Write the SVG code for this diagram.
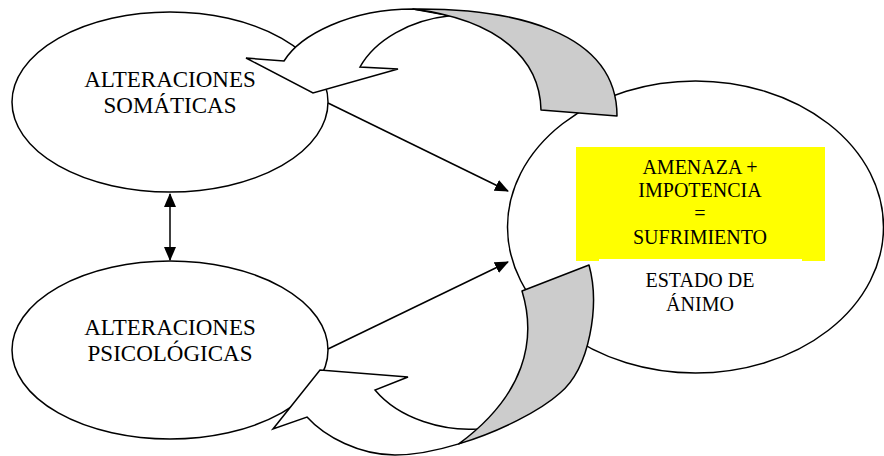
<svg xmlns="http://www.w3.org/2000/svg" width="884" height="456" viewBox="0 0 884 456">
<defs>
<style>
.node{fill:#fff;stroke:#000;stroke-width:1.5}
.back{fill:#ccc;stroke:#000;stroke-width:1.5;stroke-linejoin:round}
.band{fill:#fff;stroke:#000;stroke-width:1.5;stroke-linejoin:miter}
.lbl{font-family:"Liberation Serif","Times New Roman",serif;font-size:23px;text-anchor:middle;fill:#000}
.sm{font-size:20px}
.conn{stroke:#000;stroke-width:1.5;fill:none}
</style>
<marker id="ah" viewBox="0 0 14 14" refX="13" refY="7" markerWidth="14" markerHeight="14" markerUnits="userSpaceOnUse" orient="auto-start-reverse">
<path d="M0,1 L14,7 L0,13 Z" fill="#000"/>
</marker>
</defs>

<g id="somaticas">
<ellipse class="node" cx="170" cy="102" rx="158" ry="90"/>
<text class="lbl" x="170" y="87">ALTERACIONES</text>
<text class="lbl" x="170" y="113">SOMÁTICAS</text>
</g>

<g id="psicologicas">
<ellipse class="node" cx="170" cy="350" rx="158" ry="89"/>
<text class="lbl" x="170" y="335">ALTERACIONES</text>
<text class="lbl" x="170" y="361">PSICOLÓGICAS</text>
</g>

<g id="estado">
<ellipse class="node" cx="695.5" cy="227" rx="188" ry="146"/>
<rect x="576" y="147" width="249" height="114" fill="#ffff00"/>
<rect x="599" y="259" width="203" height="60" fill="#fff"/>
<text class="lbl sm" x="700" y="174">AMENAZA +</text>
<text class="lbl sm" x="700" y="197">IMPOTENCIA</text>
<text class="lbl sm" x="700" y="220">=</text>
<text class="lbl sm" x="700" y="244">SUFRIMIENTO</text>
<text class="lbl sm" x="700" y="287">ESTADO DE</text>
<text class="lbl sm" x="700" y="311">ÁNIMO</text>
</g>

<g id="connectors">
<line class="conn" x1="328" y1="103" x2="508" y2="191" marker-end="url(#ah)"/>
<line class="conn" x1="328" y1="349" x2="508" y2="262" marker-end="url(#ah)"/>
<line class="conn" x1="170" y1="194" x2="170" y2="260" marker-start="url(#ah)" marker-end="url(#ah)"/>
</g>

<g id="ciclo-superior">
<path class="band" d="M284,61 C300,35 350,9 413,9 L450,15.8 C410,20 375,40 360,67 L398,69 L313,93 L246,58 Z"/>
<path class="back" d="M413,9 C510,8 617,30 617,116 L541,110 C540,60 500,20 413,9 Z"/>
</g>

<g id="ciclo-inferior">
<path class="band" d="M307,417 C325,437 360,455 395,455 C414.25,455 436.6,450.7 458.8,443.9 L500,425 L477,429 C445,431 400,420 375,390 L408,377 L320,370 L273,429 Z"/>
<path class="back" d="M458.8,443.9 C499.9,431.5 540.5,410.6 560,393 C590,368 600,305 589,265 L522,291 C537,340 525,395 458.8,443.9 Z"/>
</g>
</svg>
